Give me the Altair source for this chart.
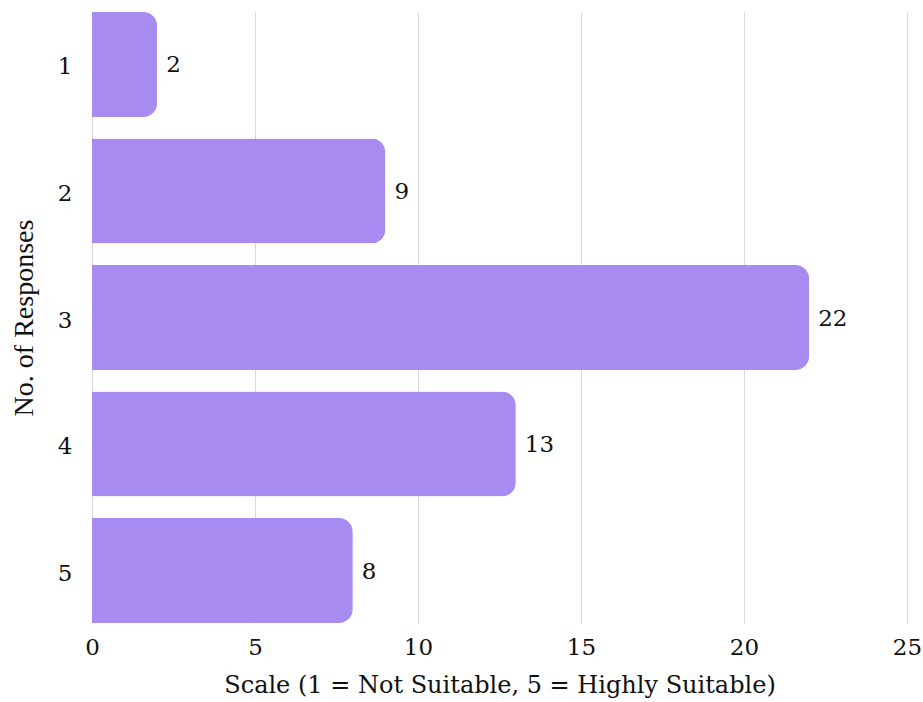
import altair as alt
import pandas as pd

# Survey ratings on a 1-5 suitability scale and how many responses each received
ratings = ["1", "2", "3", "4", "5"]
counts = [2, 9, 22, 13, 8]

df = pd.DataFrame({"rating": ratings, "count": counts})

FONT = "DejaVu Serif"
TITLE_FONT = "Liberation Serif"
BAR_COLOR = "#a78bf1"
INK = "#111111"

y_enc = alt.Y(
    "rating:N",
    sort=ratings,
    scale=alt.Scale(paddingInner=0.17, paddingOuter=0),
    axis=alt.Axis(
        title="No. of Responses",
        titleFont=TITLE_FONT,
        titleFontSize=28,
        titleFontWeight="normal",
        titleColor=INK,
        titlePadding=19,
        labelFont=FONT,
        labelFontSize=23,
        labelColor=INK,
        labelPadding=20,
        labelOffset=3,
        labelAngle=0,
        domain=False,
        ticks=False,
        grid=False,
    ),
)

x_enc = alt.X(
    "count:Q",
    scale=alt.Scale(domain=[0, 25], nice=False),
    axis=alt.Axis(
        title="Scale (1 = Not Suitable, 5 = Highly Suitable)",
        values=[0, 5, 10, 15, 20, 25],
        titleFont=FONT,
        titleFontSize=24,
        titleFontWeight="normal",
        titleColor=INK,
        titlePadding=14,
        labelFont=FONT,
        labelFontSize=23,
        labelColor=INK,
        labelPadding=13,
        labelFlush=False,
        domain=False,
        ticks=False,
        grid=True,
        gridColor="#d9d9d9",
        gridWidth=1,
    ),
)

bars = alt.Chart(df).mark_bar(
    color=BAR_COLOR, cornerRadiusEnd=14
).encode(x=x_enc, y=y_enc)

# Value labels just past the end of each bar
labels = alt.Chart(df).mark_text(
    align="left", baseline="middle", dx=9, dy=1,
    font=FONT, fontSize=23, color=INK,
).encode(
    x="count:Q",
    y=alt.Y("rating:N", sort=ratings),
    text="count:Q",
)

chart = (
    alt.layer(bars, labels)
    .properties(
        width=815,
        height=611,
        autosize=alt.AutoSizeParams(type="none"),
        padding={"left": 92, "top": 12, "right": 16, "bottom": 79},
        background="white",
    )
    .configure_view(stroke="transparent", strokeWidth=0)
)

chart.save("out.html", embed_options={"renderer": "svg", "actions": False})
